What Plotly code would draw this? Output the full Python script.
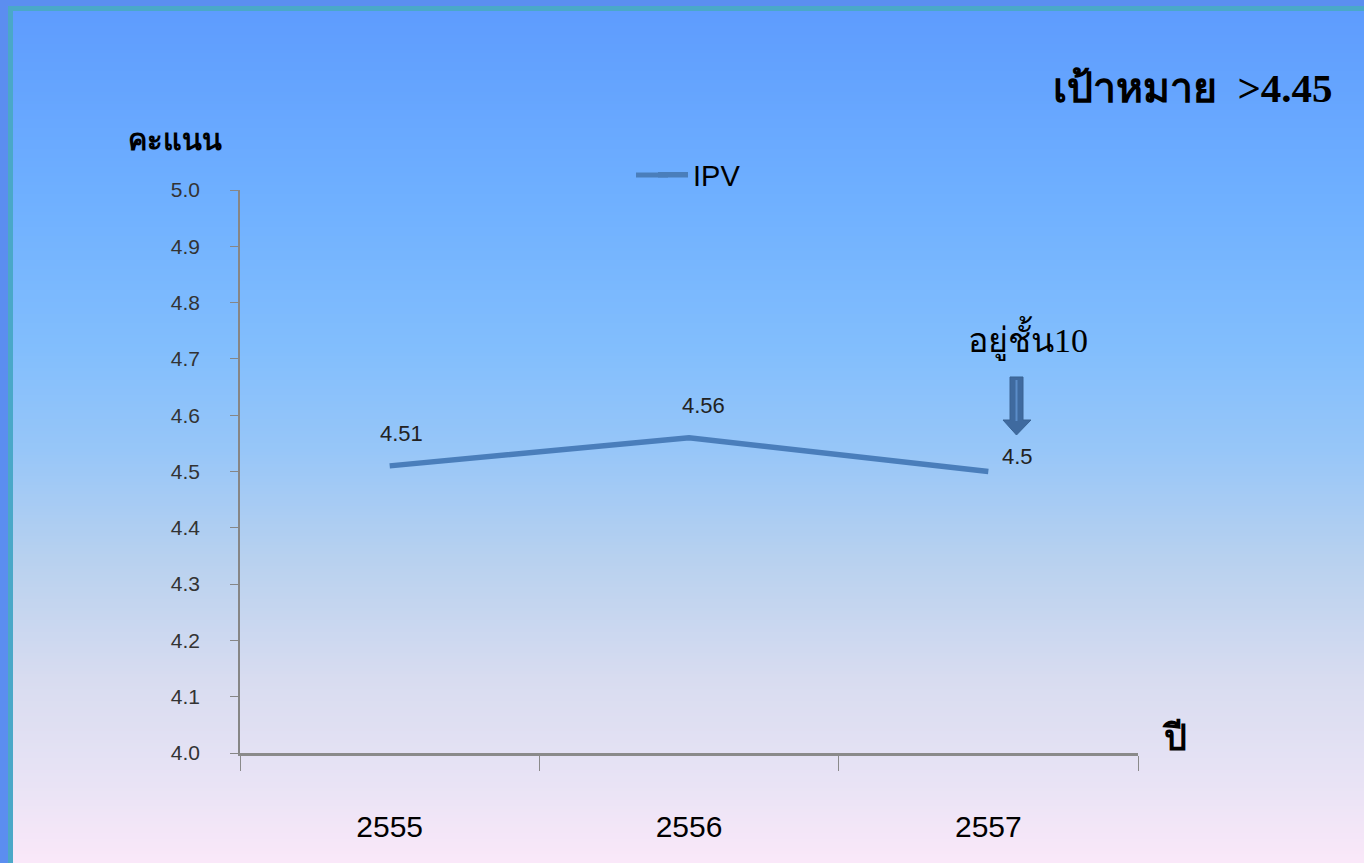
import plotly.graph_objects as go

# ---- data ----
years = ["2555", "2556", "2557"]
scores = [4.51, 4.56, 4.5]
series_name = "IPV"
y_ticks = [4.0, 4.1, 4.2, 4.3, 4.4, 4.5, 4.6, 4.7, 4.8, 4.9, 5.0]
title_text = "เป้าหมาย  >4.45"
y_title = "คะแนน"
x_title = "ปี"
note_text = "อยู่ชั้น10"

W, H = 1364, 863
L, R, T, B = 240, 1138, 190, 753  # plot area in pixels
PW, PH = R - L, B - T
LINE_COLOR = "#4a7ebb"


def px(x):
    return (x - L) / PW


def py(y):
    return (B - y) / PH


def hex2rgb(h):
    h = h.lstrip("#")
    return tuple(int(h[i:i + 2], 16) for i in (0, 2, 4))


stops = [(10, "#5e9cfe"), (200, "#6fb0ff"), (350, "#82befd"), (450, "#97c6f8"),
         (560, "#b8d1ef"), (680, "#d8dcf0"), (780, "#e8e3f5"), (863, "#fae8f9")]


def color_at(y):
    for (y0, c0), (y1, c1) in zip(stops[:-1], stops[1:]):
        if y0 <= y <= y1:
            t = (y - y0) / (y1 - y0)
            a, b = hex2rgb(c0), hex2rgb(c1)
            return "rgb(%d,%d,%d)" % tuple(round(a[i] + (b[i] - a[i]) * t) for i in range(3))
    return stops[-1][1]


shapes = []
# teal frame
shapes.append(dict(type="rect", xref="paper", yref="paper", layer="below",
                   x0=px(8), x1=px(W + 10), y0=py(6), y1=py(H + 10),
                   fillcolor="#4aa8c8", line=dict(width=0)))
step = 3
yy = 11
while yy < H + 5:
    shapes.append(dict(type="rect", xref="paper", yref="paper", layer="below",
                       x0=px(13), x1=px(W + 10), y0=py(yy), y1=py(yy + step + 0.6),
                       fillcolor=color_at(yy + step / 2), line=dict(width=0)))
    yy += step

# down arrow (block arrow)
arrow_pts = [(1010, 377), (1023, 377), (1023, 420), (1031, 420), (1016.5, 435),
             (1003, 420), (1010, 420)]
path = "M " + " L ".join("%f,%f" % (px(x), py(y)) for x, y in arrow_pts) + " Z"
shapes.append(dict(type="path", xref="paper", yref="paper", path=path,
                   fillcolor="#3f6a9f", line=dict(color="#3a6393", width=1)))
shapes.append(dict(type="line", xref="paper", yref="paper",
                   x0=px(1016.5), x1=px(1016.5), y0=py(380), y1=py(421),
                   line=dict(color="#5b8cc8", width=2)))
# longer legend sample line (extends plotly's short legend swatch)
shapes.append(dict(type="line", xref="paper", yref="paper",
                   x0=px(636), x1=px(668), y0=py(175), y1=py(175),
                   line=dict(color=LINE_COLOR, width=5)))

fig = go.Figure()
fig.add_trace(go.Scatter(
    x=years, y=scores, mode="lines", name=series_name,
    line=dict(color=LINE_COLOR, width=5.5),
))

annotations = []
label_offsets = [(12, 32), (14, 32), (29, 15)]
for i, (yv, (dx, dy)) in enumerate(zip(scores, label_offsets)):
    annotations.append(dict(x=i, y=yv, xref="x", yref="y", text=f"{yv:g}",
                            showarrow=False, xshift=dx, yshift=dy,
                            xanchor="center", yanchor="middle",
                            font=dict(family="Liberation Sans, Arial", size=22, color="#222222")))

annotations.append(dict(x=px(1335), y=py(88), xref="paper", yref="paper", text="<b>" + title_text + "</b>",
                        showarrow=False, xanchor="right", yanchor="middle",
                        font=dict(family="Liberation Serif, Times New Roman, serif", size=41, color="black")))
annotations.append(dict(x=px(175), y=py(140), xref="paper", yref="paper", text="<b>" + y_title + "</b>",
                        showarrow=False, xanchor="center", yanchor="middle",
                        font=dict(family="Liberation Sans, Tahoma, sans-serif", size=29, color="black")))
annotations.append(dict(x=px(1028), y=py(338), xref="paper", yref="paper", text=note_text,
                        showarrow=False, xanchor="center", yanchor="middle",
                        font=dict(family="Liberation Serif, Times New Roman, serif", size=34, color="black")))
annotations.append(dict(x=px(1174), y=py(738), xref="paper", yref="paper", text="<b>" + x_title + "</b>",
                        showarrow=False, xanchor="center", yanchor="middle",
                        font=dict(family="Liberation Serif, Times New Roman, serif", size=36, color="black")))

fig.update_layout(
    width=W, height=H,
    margin=dict(l=L, r=W - R, t=T, b=H - B, pad=0),
    paper_bgcolor="#5b8ef0",
    plot_bgcolor="rgba(0,0,0,0)",
    shapes=shapes,
    annotations=annotations,
    showlegend=True,
    legend=dict(orientation="h", x=px(653), y=py(175), xanchor="left", yanchor="middle",
                bgcolor="rgba(0,0,0,0)",
                font=dict(family="Liberation Sans, Arial", size=29, color="black")),
    xaxis=dict(
        type="category", range=[-0.5, 2.5], tickson="boundaries",
        showline=True, linecolor="#8a8a8a", linewidth=2.5,
        ticks="outside", ticklen=15, tickwidth=1.3, tickcolor="#8a8a8a",
        showgrid=False, zeroline=False, ticklabelstandoff=45,
        tickfont=dict(family="Liberation Sans, Arial", size=30, color="black"),
    ),
    yaxis=dict(
        range=[4.0, 5.0], tickvals=y_ticks, tickformat=".1f",
        showline=True, linecolor="#868686", linewidth=1.6,
        ticks="outside", ticklen=8, tickwidth=1.3, tickcolor="#868686",
        showgrid=False, zeroline=False, ticklabelstandoff=26,
        tickfont=dict(family="Liberation Sans, Arial", size=21, color="#333333"),
    ),
)

fig.write_html("out.html", config={"displayModeBar": False},
               post_script="document.body.style.margin='0';document.body.style.overflow='hidden';")
